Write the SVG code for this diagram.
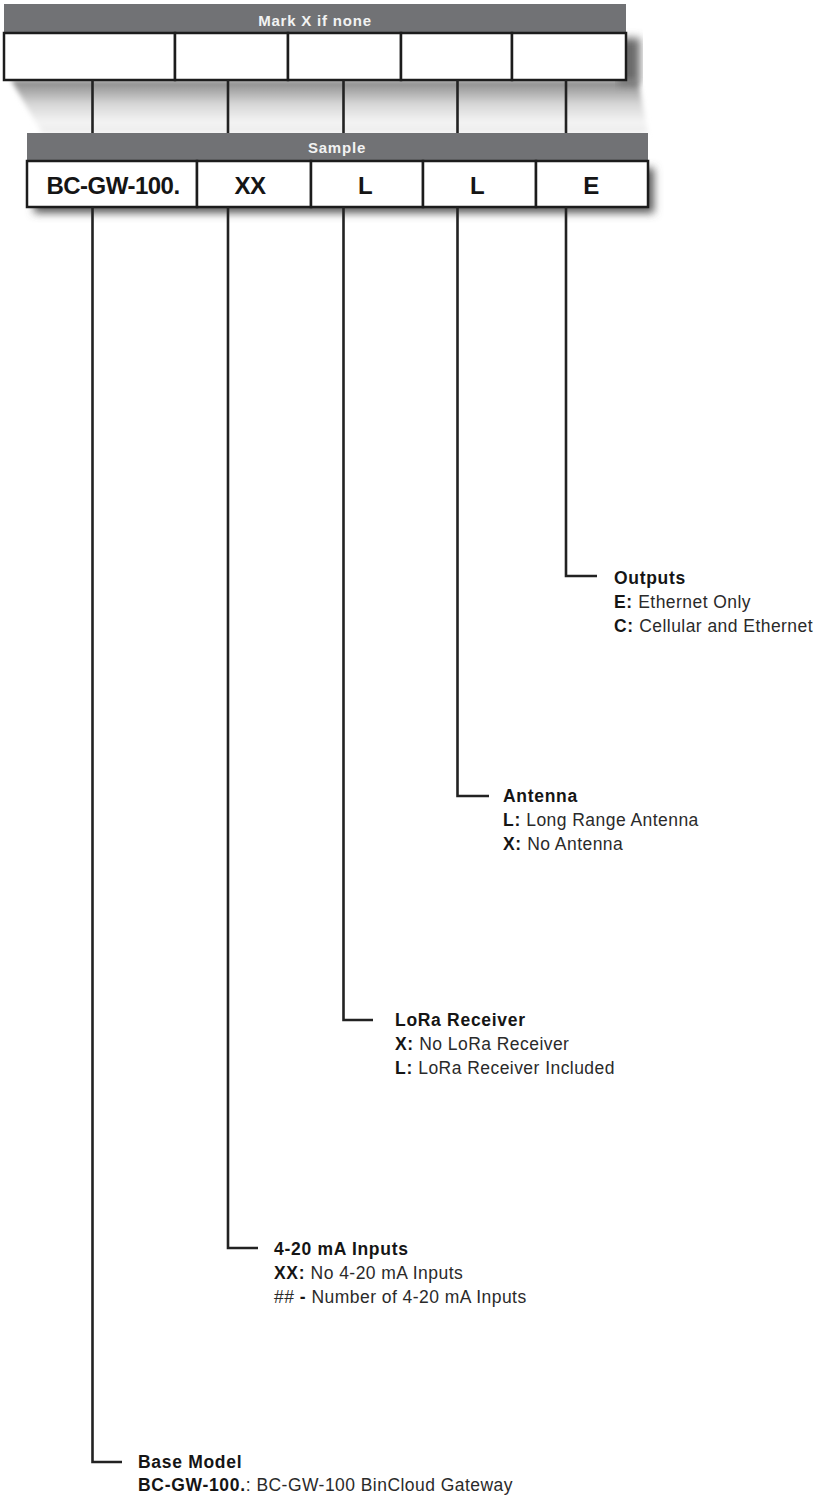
<svg xmlns="http://www.w3.org/2000/svg" width="817" height="1498" viewBox="0 0 817 1498">
<style>
.hdr{fill:#717275}
.cell{fill:#ffffff;stroke:#1c1c1c;stroke-width:2.5}
.htxt{font-family:"Liberation Sans",Arial,sans-serif;font-weight:bold;font-size:15px;fill:#f2f2f2;text-anchor:middle;letter-spacing:0.8px}
.code{font-family:"Liberation Sans",Arial,sans-serif;font-weight:bold;font-size:24px;fill:#151515;text-anchor:middle;letter-spacing:-0.5px}
.wire{fill:none;stroke:#222;stroke-width:2.6;stroke-linejoin:miter}
.lbl{font-family:"Liberation Sans",Arial,sans-serif;font-size:17.5px;fill:#2a2a2a;letter-spacing:0.45px}
.b{font-weight:bold;fill:#151515;letter-spacing:0.7px}
</style>
<defs>
<linearGradient id="band" x1="0" y1="0" x2="0" y2="1">
<stop offset="0" stop-color="#858585"/>
<stop offset="0.45" stop-color="#d6d6d6"/>
<stop offset="0.8" stop-color="#f4f4f4"/>
<stop offset="1" stop-color="#ebebeb"/>
</linearGradient>
<filter id="soft" x="-10%" y="-50%" width="120%" height="200%"><feGaussianBlur stdDeviation="2.5"/></filter>
<filter id="sh" x="-10%" y="-50%" width="120%" height="200%"><feGaussianBlur stdDeviation="4"/></filter>
</defs>
<rect width="817" height="1498" fill="#ffffff"/>

<g id="shadows">
<polygon points="11,80 638,80 648,133 42,133" fill="url(#band)" filter="url(#soft)"/>
<rect x="618" y="38" width="22" height="46" fill="#6a6a6a" filter="url(#sh)"/>
<rect x="34" y="168" width="620" height="45" fill="#5a5a5a" filter="url(#sh)"/>
</g>

<g id="mark-box">
<rect class="hdr" x="4" y="4" width="622" height="29"/>
<text class="htxt" x="315" y="26">Mark X if none</text>
<rect class="cell" x="4" y="33" width="171" height="47"/>
<rect class="cell" x="175" y="33" width="113" height="47"/>
<rect class="cell" x="288" y="33" width="113" height="47"/>
<rect class="cell" x="401" y="33" width="111" height="47"/>
<rect class="cell" x="512" y="33" width="114" height="47"/>
</g>

<g id="sample-box">
<rect class="hdr" x="27" y="133" width="621" height="28"/>
<text class="htxt" x="337" y="153">Sample</text>
<rect class="cell" x="27" y="161" width="170" height="46"/>
<rect class="cell" x="197" y="161" width="114" height="46"/>
<rect class="cell" x="311" y="161" width="112" height="46"/>
<rect class="cell" x="423" y="161" width="113" height="46"/>
<rect class="cell" x="536" y="161" width="112" height="46"/>
<text class="code" x="113" y="194">BC-GW-100.</text>
<text class="code" x="250" y="194">XX</text>
<text class="code" x="365" y="194">L</text>
<text class="code" x="477" y="194">L</text>
<text class="code" x="591" y="194">E</text>
</g>

<g id="connectors">
<path class="wire" d="M92.5,80V133M228,80V133M343.5,80V133M457.5,80V133M566,80V133"/>
<path class="wire" d="M92.5,207V1462H122"/>
<path class="wire" d="M228,207V1248H258"/>
<path class="wire" d="M343.5,207V1020H373"/>
<path class="wire" d="M457.5,207V796H489"/>
<path class="wire" d="M566,207V576H597"/>
</g>

<g id="outputs">
<text class="lbl b" x="614" y="584">Outputs</text>
<text class="lbl" x="614" y="608"><tspan class="b">E:</tspan> Ethernet Only</text>
<text class="lbl" x="614" y="632"><tspan class="b">C:</tspan> Cellular and Ethernet</text>
</g>

<g id="antenna">
<text class="lbl b" x="503" y="802">Antenna</text>
<text class="lbl" x="503" y="826"><tspan class="b">L:</tspan> Long Range Antenna</text>
<text class="lbl" x="503" y="850"><tspan class="b">X:</tspan> No Antenna</text>
</g>

<g id="lora">
<text class="lbl b" x="395" y="1026">LoRa Receiver</text>
<text class="lbl" x="395" y="1050"><tspan class="b">X:</tspan> No LoRa Receiver</text>
<text class="lbl" x="395" y="1074"><tspan class="b">L:</tspan> LoRa Receiver Included</text>
</g>

<g id="inputs">
<text class="lbl b" x="274" y="1255">4-20 mA Inputs</text>
<text class="lbl" x="274" y="1279"><tspan class="b">XX:</tspan> No 4-20 mA Inputs</text>
<text class="lbl" x="274" y="1303">## <tspan class="b">-</tspan> Number of 4-20 mA Inputs</text>
</g>

<g id="base-model">
<text class="lbl b" x="138" y="1468">Base Model</text>
<text class="lbl" x="138" y="1491"><tspan class="b">BC-GW-100.</tspan>: BC-GW-100 BinCloud Gateway</text>
</g>
</svg>
